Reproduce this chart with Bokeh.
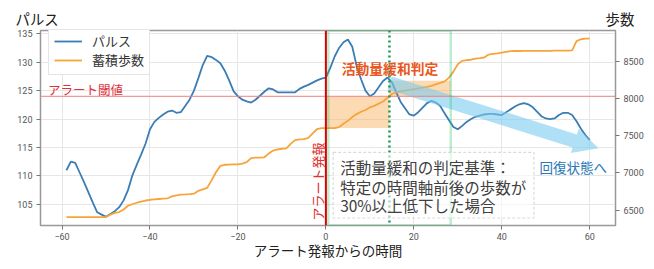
import math
from bokeh.plotting import figure
from bokeh.models import (Range1d, LinearAxis, Label, BoxAnnotation, Span, Legend,
                          LegendItem, FixedTicker)
from bokeh.embed import file_html
from bokeh.resources import INLINE

# ---------------- data ----------------
minutes = list(range(-59, 61))
pulse = [
    111.0, 112.5, 112.3, 110.6, 108.9, 107.1, 105.3, 103.6, 103.2, 102.8,
    103.3, 103.8, 104.5, 105.7, 107.5, 110.1, 112.0, 113.8, 115.7, 118.2,
    119.5, 120.2, 120.8, 121.3, 121.5, 121.1, 121.2, 122.3, 123.4, 125.0,
    127.2, 129.5, 131.1, 130.9, 130.4, 129.8, 128.5, 126.8, 124.9, 124.0,
    123.4, 123.1, 122.9, 123.4, 124.1, 124.8, 125.4, 125.2, 124.7, 124.7,
    124.7, 124.7, 124.7, 125.3, 125.7, 126.0, 126.4, 126.8, 127.1, 127.3,
    129.0, 131.0, 132.5, 133.5, 134.0, 132.7, 129.3, 127.0, 125.0, 124.0,
    124.5, 125.6, 126.7, 127.3, 126.5, 124.7, 123.0, 121.9, 120.8, 120.6,
    121.2, 122.0, 122.8, 123.2, 122.9, 122.3, 121.0, 119.8, 118.6, 118.2,
    118.8, 119.5, 120.0, 120.4, 120.6, 120.8, 120.9, 120.9, 120.8, 120.7,
    121.2, 121.7, 122.2, 122.6, 122.8, 122.6, 122.1, 121.3, 120.5, 120.1,
    120.0, 120.1, 120.7, 121.1, 121.1, 120.7, 119.6, 118.3, 117.2, 116.3,
]
steps = [
    6408, 6408, 6408, 6408, 6408, 6408, 6408, 6408, 6408, 6408,
    6440, 6465, 6475, 6510, 6560, 6580, 6600, 6615, 6630, 6640,
    6645, 6650, 6655, 6660, 6685, 6700, 6710, 6712, 6715, 6722,
    6760, 6780, 6800, 6900, 7010, 7095, 7110, 7112, 7115, 7115,
    7125, 7145, 7200, 7205, 7207, 7210, 7260, 7300, 7315, 7325,
    7330, 7390, 7440, 7450, 7455, 7470, 7530, 7590, 7603, 7603,
    7603, 7603, 7615, 7660, 7700, 7750, 7790, 7822, 7845, 7880,
    7900, 7931, 7960, 8010, 8061, 8080, 8095, 8105, 8115, 8125,
    8135, 8145, 8155, 8170, 8190, 8210, 8230, 8280, 8360, 8460,
    8505, 8515, 8520, 8535, 8542, 8550, 8590, 8600, 8605, 8615,
    8625, 8635, 8637, 8637, 8638, 8638, 8639, 8639, 8640, 8640,
    8640, 8641, 8641, 8642, 8642, 8645, 8770, 8795, 8803, 8803,
]
x_ticks = [-60, -40, -20, 0, 20, 40, 60]
pulse_ticks = [105, 110, 115, 120, 125, 130, 135]
step_ticks = [6500, 7000, 7500, 8000, 8500]
alert_threshold = 124.0
alert_time = 0
judge_time = 14.45
window_start = 0.55
window_end = 28.4
# step-increase windows (before / after judge time)
win_x0 = [0.0, 14.45]
win_x1 = [14.45, 28.4]
win_s0 = [7603, 8028]
win_s1 = [8028, 8237]

# ---------------- geometry ----------------
W, H = 646, 261
BL, BR, BT, BB = 40, 30, 30, 31
FW, FH = W - BL - BR, H - BT - BB
X0, X1 = -64.9, 65.86
Y0, Y1 = 101.28, 135.57
S0, S1 = 6294.5, 8912.5
sx = FW / (X1 - X0)
sy = FH / (Y1 - Y0)

BLUE = "#3a7db5"
ORANGE = "#f7a43a"
JP = "Noto Sans CJK JP"
JPR = "Roboto, 'Noto Sans CJK JP'"

p = figure(width=W, height=H, output_backend="svg", toolbar_location=None,
           x_range=Range1d(X0, X1), y_range=Range1d(Y0, Y1),
           min_border_left=BL, min_border_right=BR, min_border_top=BT,
           min_border_bottom=BB)
p.extra_y_ranges = {"steps": Range1d(S0, S1)}
p.background_fill_color = "white"
p.border_fill_color = "white"
p.outline_line_color = "#999999"
p.outline_line_width = 1.5

# header: left-axis name and right-axis name on one line
p.title.text = "パルス" + "\u3000" * 38 + "歩数"
p.title.align = "left"
p.title.offset = -25
p.title.standoff = 3
p.title.text_font = JPR
p.title.text_font_size = "14.4px"
p.title.text_font_style = "normal"
p.title.text_color = "#222222"

def style_axis(ax):
    ax.axis_line_color = "#999999"
    ax.major_tick_line_color = "#777777"
    ax.major_tick_out = 4
    ax.major_tick_in = 0
    ax.minor_tick_line_color = None
    ax.major_label_text_font = "Roboto"
    ax.major_label_text_font_size = "9px"
    ax.major_label_text_color = "#555555"
    ax.major_label_standoff = 4

p.xaxis.ticker = FixedTicker(ticks=x_ticks)
p.yaxis.ticker = FixedTicker(ticks=pulse_ticks)
style_axis(p.xaxis[0])
style_axis(p.yaxis[0])
p.xaxis.major_label_standoff = 3
p.xaxis.axis_label = "アラート発報からの時間"
p.xaxis.axis_label_standoff = 0
p.xaxis.axis_label_text_font = JPR
p.xaxis.axis_label_text_font_size = "13.5px"
p.xaxis.axis_label_text_font_style = "normal"
p.xaxis.axis_label_text_color = "#222222"
ax_r = LinearAxis(y_range_name="steps", ticker=FixedTicker(ticks=step_ticks))
style_axis(ax_r)
p.add_layout(ax_r, "right")

p.xgrid.grid_line_color = "#e6e6e6"
p.ygrid.grid_line_color = "#e6e6e6"

# orange windows (step increase)
p.quad(left=win_x0, right=win_x1, bottom=win_s0, top=win_s1, y_range_name="steps",
       fill_color="#f9b56a", fill_alpha=0.5, line_color=None)

# threshold line
p.add_layout(Span(location=alert_threshold, dimension="width", line_color="#f08080",
                  line_width=1))

r_pulse = p.line(minutes, pulse, line_color=BLUE, line_width=1.8)
r_steps = p.line(minutes, steps, y_range_name="steps", line_color=ORANGE, line_width=1.8)

# light-blue arrow (pixel geometry converted to data)
def to_px(x, y):
    return ((x - X0) * sx, (y - Y0) * sy)

def to_data(px, py):
    return (X0 + px / sx, Y0 + py / sy)

a_start = to_px(14.48, 126.34)
a_tip = to_px(62.0, 114.85)
dx, dy = a_tip[0] - a_start[0], a_tip[1] - a_start[1]
L = math.hypot(dx, dy)
ux, uy = dx / L, dy / L
nx, ny = -uy, ux
hl, hw, sw = 25, 13, 7
bx, by = a_tip[0] - hl * ux, a_tip[1] - hl * uy
pts = [
    (a_start[0] + sw * nx, a_start[1] + sw * ny),
    (bx + sw * nx, by + sw * ny),
    (bx + hw * nx, by + hw * ny),
    a_tip,
    (bx - hw * nx, by - hw * ny),
    (bx - sw * nx, by - sw * ny),
    (a_start[0] - sw * nx, a_start[1] - sw * ny),
]
dpts = [to_data(*q) for q in pts]
p.patch([q[0] for q in dpts], [q[1] for q in dpts], fill_color="#7ccbee",
        fill_alpha=0.6, line_color=None)

# alert line / window box / judge line
p.add_layout(Span(location=alert_time, dimension="height", line_color="#e00000",
                  line_width=2))
p.add_layout(BoxAnnotation(left=window_start, right=window_end, fill_alpha=0,
                           line_color="#22c262", line_width=2.5))
p.add_layout(Span(location=judge_time, dimension="height", line_color="#1a9a55",
                  line_width=2.5, line_dash="2 3"))

# criterion box
p.add_layout(BoxAnnotation(left=1.66, right=47.3, bottom=102.6, top=114.14,
                           fill_color="white", fill_alpha=0.6, line_color="#888888",
                           line_width=1.2, line_dash="3 2"))

def lab(x, y, text, size, color, **kw):
    opts = dict(text_font=JP, text_font_size=size, text_color=color,
                text_baseline="middle", text_align="left")
    opts.update(kw)
    p.add_layout(Label(x=x, y=y, text=text, **opts))

lab(-63.2, 125.2, "アラート閾値", "12.5px", "#e0303a")
lab(-1.98, 109.0, "アラート発報", "13px", "#e03030", angle=math.pi / 2,
    text_align="center")
lab(3.6, 129.0, "活動量緩和判定", "13.8px", "#e8581c", text_font_style="bold")
lab(3.24, 111.56, "活動量緩和の判定基準：", "15.5px", "#404040")
lab(3.24, 108.13, "特定の時間軸前後の歩数が", "15.5px", "#404040")
lab(3.24, 104.8, "30%以上低下した場合", "15.5px", "#404040")
lab(48.6, 111.56, "回復状態へ", "13.5px", "#2a78b8")

legend = Legend(items=[LegendItem(label="パルス", renderers=[r_pulse]),
                       LegendItem(label="蓄積歩数", renderers=[r_steps])],
                location=(8, FH - 50), margin=0, padding=5, spacing=0,
                glyph_width=28, glyph_height=14, label_height=14, label_standoff=10,
                label_text_font=JPR, label_text_font_size="13px",
                label_text_color="#333333", border_line_color="#cccccc",
                background_fill_color="white", background_fill_alpha=1)
p.add_layout(legend)

open("out.html", "w").write(file_html(p, INLINE))
